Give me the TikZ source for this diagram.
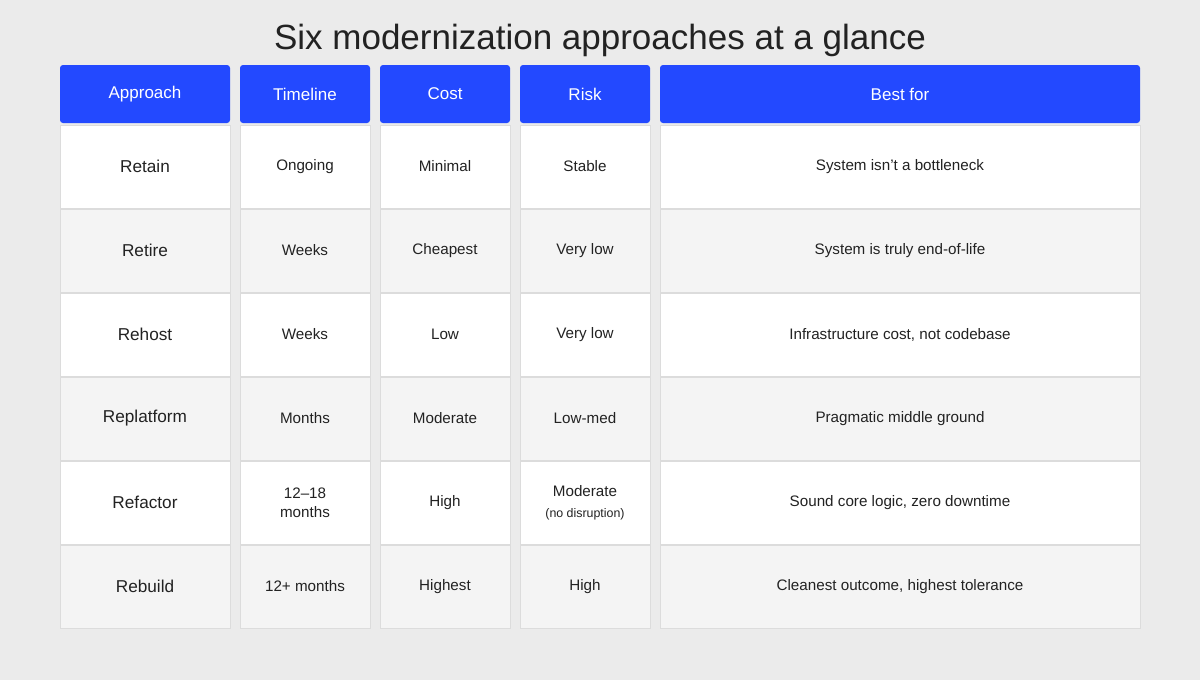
\documentclass[tikz,border=0pt]{standalone}
\usepackage{fontspec}
\setmainfont{Liberation Sans}
\definecolor{pagebg}{HTML}{EBEBEB}
\definecolor{headblue}{HTML}{2349FF}
\definecolor{rowgray}{HTML}{F4F4F4}
\definecolor{cellline}{HTML}{DCDCDC}
\definecolor{inktext}{HTML}{222222}
\begin{document}
\begin{tikzpicture}[
        x = 0.5pt, y = -0.5pt, % pixel grid of the reference
        headcell/.style = {fill = headblue, rounded corners = 1.5pt, text = white,
                           font = \fontsize{8.5}{10}\selectfont, inner sep = 0pt},
        bodycell/.style = {draw = cellline, line width = 0.5pt, text = inktext,
                           font = \fontsize{7.6}{9.5}\selectfont, inner sep = 0pt, align = center},
        namecell/.style = {bodycell, font = \fontsize{8.6}{10}\selectfont}
    ]

    % page and title
    \fill[pagebg] (0,0) rectangle (1200,680);
    \useasboundingbox (0,0) rectangle (1200,680);
    \node[text = inktext, font = \fontsize{17.5}{20}\selectfont] (title) at (600,40) {Six modernization approaches at a glance};

    % header row
    \foreach \nm/\xa/\xb/\txt in {hA/60/230/Approach, hT/240/370/Timeline, hC/380/510/Cost,
                                  hR/520/650/Risk, hB/660/1140/Best for} {
        \node[headcell, minimum width = (\xb-\xa)*0.5pt, minimum height = 29pt]
            (\nm) at ({(\xa+\xb)/2},94) {\txt};
    }

    % body rows
    \foreach \i/\fillc/\a/\t/\c/\r/\b in {
        1/white/Retain/Ongoing/Minimal/Stable/System isn't a bottleneck,
        2/rowgray/Retire/Weeks/Cheapest/Very low/System is truly end-of-life,
        3/white/Rehost/Weeks/Low/Very low/{Infrastructure cost, not codebase},
        4/rowgray/Replatform/Months/Moderate/Low-med/Pragmatic middle ground,
        5/white/Refactor/{12--18\\months}/High/{Moderate\\[1pt]{\fontsize{6.2}{7}\selectfont (no disruption)}}/{Sound core logic, zero downtime},
        6/rowgray/Rebuild/12+ months/Highest/High/{Cleanest outcome, highest tolerance}} {
        \pgfmathsetmacro{\yc}{125+84*(\i-1)+41.5}
        \node[namecell, fill = \fillc, minimum width = 85pt, minimum height = 41.5pt] (a\i) at (145,\yc) {\a};
        \node[bodycell, fill = \fillc, minimum width = 65pt, minimum height = 41.5pt] (t\i) at (305,\yc) {\t};
        \node[bodycell, fill = \fillc, minimum width = 65pt, minimum height = 41.5pt] (c\i) at (445,\yc) {\c};
        \node[bodycell, fill = \fillc, minimum width = 65pt, minimum height = 41.5pt] (r\i) at (585,\yc) {\r};
        \node[bodycell, fill = \fillc, minimum width = 240pt, minimum height = 41.5pt] (b\i) at (900,\yc) {\b};
    }

\end{tikzpicture}
\end{document}
